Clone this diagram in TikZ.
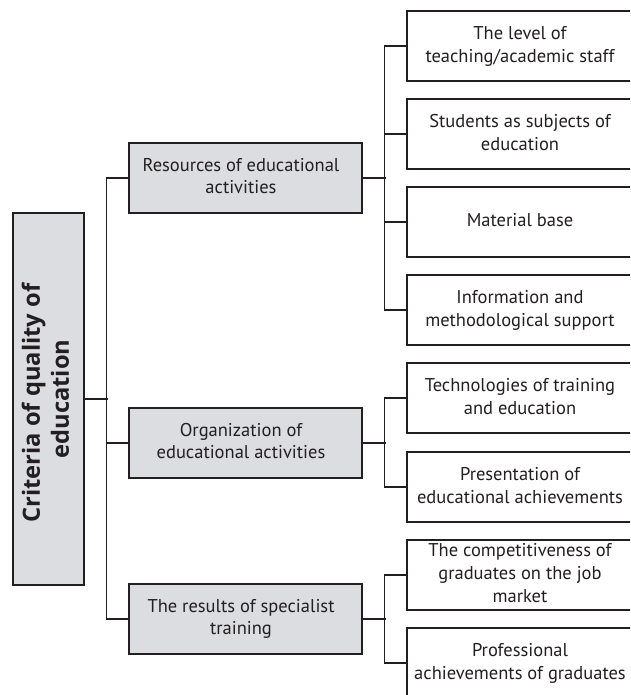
\documentclass[tikz,border=0pt]{standalone}
\usepackage{fontspec}
\setmainfont{PT Sans}
\newfontfamily\titlefont{Open Sans}
\definecolor{ink}{HTML}{231F20}
\definecolor{boxgray}{HTML}{DCDDE0}
\newcommand{\ctrlines}[2][0pt]{\makebox[0pt][c]{\kern#1\begin{tabular}{@{}c@{}}#2\end{tabular}}}
\tikzset{
  conn/.style={draw=ink, line width=1.3pt},
  mainbox/.style={draw=ink, line width=1.4pt, fill=boxgray, minimum width=71pt, minimum height=372pt, inner sep=0pt},
  midbox/.style={draw=ink, line width=1.4pt, fill=boxgray, minimum width=233pt, minimum height=70pt, font=\fontsize{18.5}{22.5}\selectfont, text=ink, inner sep=0pt},
  leafbox/.style={draw=ink, line width=1.4pt, fill=white, minimum width=226pt, minimum height=70pt, font=\fontsize{18.5}{23}\selectfont, text=ink, inner sep=0pt},
}
\begin{document}
\begin{tikzpicture}[x=1pt,y=-1pt]
\useasboundingbox (0,0) rectangle (630,695);
\clip (0,0) rectangle (630,695);
\node[mainbox] (main) at (48.5,399) {\rotatebox{90}{\titlefont\fontsize{23.7}{29}\selectfont\bfseries\color{ink}\begin{tabular}{@{}c@{}}Criteria of quality of\kern8pt\\education\end{tabular}}};

\node[midbox] (res) at (245.5,178) {\ctrlines[-9pt]{Resources of educational\\activities}};
\node[midbox] (org) at (245.5,443) {\ctrlines[-9pt]{Organization of\\educational activities}};
\node[midbox] (rst) at (245.5,619) {\ctrlines[-9pt]{The results of specialist\\training}};

\node[leafbox] (c1) at (520,46) {\ctrlines{The level of\\teaching/academic staff}};
\node[leafbox] (c2) at (520,134) {\ctrlines{Students as subjects of\\education}};
\node[leafbox] (c3) at (520,222) {\ctrlines{Material base}};
\node[leafbox] (c4) at (520,310) {\ctrlines{Information and\\methodological support}};
\node[leafbox] (c5) at (520,398) {\ctrlines{Technologies of training\\and education}};
\node[leafbox] (c6) at (520,487) {\ctrlines{Presentation of\\educational achievements}};
\node[leafbox] (c7) at (520,575) {\ctrlines{The competitiveness of\\graduates on the job\\market}};
\node[leafbox] (c8) at (520,663) {\ctrlines{Professional\\achievements of graduates}};

% left trunk
\draw[conn] (main.east) -- ++(23,0);
\draw[conn] (res.west) -- ++(-22,0) |- (rst.west);
\draw[conn] (org.west) -- ++(-22,0);

% right branches
\draw[conn] (res.east) -- ++(23,0);
\draw[conn] (c1.west) -- ++(-22,0) |- (c4.west);
\draw[conn] (c2.west) -- ++(-22,0);
\draw[conn] (c3.west) -- ++(-22,0);

\draw[conn] (org.east) -- ++(23,0);
\draw[conn] (c5.west) -- ++(-22,0) |- (c6.west);

\draw[conn] (rst.east) -- ++(23,0);
\draw[conn] (c7.west) -- ++(-22,0) |- (c8.west);
\end{tikzpicture}
\end{document}
